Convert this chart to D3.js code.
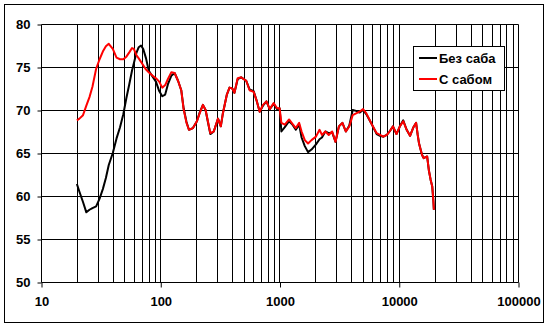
<!DOCTYPE html>
<html><head><meta charset="utf-8">
<script src="https://cdn.jsdelivr.net/npm/d3@7"></script>
<style>
html,body{margin:0;padding:0;background:#fff;}
text{font-family:"Liberation Sans",Arial,sans-serif;font-weight:bold;font-size:13px;fill:#000;}
</style></head>
<body>
<svg id="c" width="550" height="328"></svg>
<script>
const freqs = [20,21,22.5,24,25.5,27,29,31,33,35,37,40,43,46,49,52,55,58,60,63,66,69,72,76,80,86,92,98,104,110,116,124,132,141,150,157,166,174,188,203,214,228,240,251,263,281,305,322,335,362,381,402,419,446,477,526,561,607,646,682,727,777,828,893,955,1003,1037,1108,1203,1285,1370,1462,1532,1630,1735,1855,2022,2165,2270,2424,2588,2765,2950,3150,3370,3600,3850,4110,4390,4690,5020,5350,5910,6530,6960,7440,7950,8380,8950,9570,10220,10900,11650,12440,13280,13980,14420,14800,15660,16180,17300,17880,18500,19100,19500,19700];
const bezSaba = [61.4,60.5,59.3,58.1,58.4,58.6,58.8,59.7,60.8,62.1,63.6,65.0,66.7,68.0,69.5,71.4,73.0,74.6,75.4,76.6,77.3,77.5,77.1,76.0,74.6,73.9,73.3,72.2,71.6,71.8,73.0,74.0,74.3,73.4,72.3,70.2,68.6,67.7,67.9,68.7,69.7,70.6,70.0,68.6,67.2,67.5,69.0,68.1,69.6,71.8,72.6,72.5,72.0,73.6,73.8,73.4,72.4,72.2,71.0,69.8,70.5,71.0,70.1,70.7,70.1,70.2,67.5,68.0,68.7,68.3,67.7,68.3,66.8,65.8,65.1,65.4,66.0,66.6,66.8,67.5,67.3,67.4,66.3,68.1,68.5,67.5,68.2,70.0,69.9,69.7,70.0,69.5,68.4,67.2,67.0,66.9,67.1,67.5,68.1,67.2,68.1,68.8,67.7,67.0,68.0,68.5,67.1,66.1,64.8,64.4,64.6,63.0,61.9,61.1,59.5,58.4];
const sSabom = [68.8,69.0,69.4,70.5,71.5,72.7,74.8,75.9,76.8,77.4,77.7,77.1,76.1,75.9,75.9,76.2,76.7,77.2,77.1,76.4,76.0,75.6,75.2,74.7,74.4,74.0,73.7,73.3,72.6,72.9,73.6,74.4,74.3,73.4,72.3,70.1,68.5,67.7,67.9,68.7,69.6,70.6,70.0,68.7,67.3,67.5,69.0,68.1,69.6,71.8,72.6,72.5,72.0,73.7,73.8,73.4,72.3,72.1,71.0,69.8,70.6,71.0,70.1,70.8,70.2,70.2,68.5,68.3,68.9,68.4,67.9,68.5,67.5,66.5,66.1,66.5,66.9,67.7,67.1,67.5,67.1,67.5,66.3,68.1,68.5,67.5,68.1,69.4,69.6,69.8,70.1,69.6,68.4,67.3,67.1,66.9,67.1,67.5,68.1,67.2,68.1,68.7,67.7,67.0,68.0,68.5,67.1,66.1,64.8,64.4,64.6,63.0,61.9,61.1,59.5,58.4];
const seriesNames = ["Без саба","С сабом"];
const seriesColors = ["#000000","#ff0000"];
const yTicks = [50,55,60,65,70,75,80];
const xTicks = [10,100,1000,10000,100000];

const svg = d3.select("#c");
// outer border
svg.append("rect").attr("x",4.5).attr("y",4.5).attr("width",539).attr("height",318)
  .attr("fill","#fff").attr("stroke","#000").attr("stroke-width",1);

const x = d3.scaleLog().domain([10,100000]).range([41,518]);
const y = d3.scaleLinear().domain([50,80]).range([282,24]);

const g = svg.append("g").attr("transform","translate(0.5,0.5)");

// vertical gridlines at every 1..9 x decade
const vgrid = [];
for (let d=10; d<100000; d*=10) for (let k=1;k<=9;k++){ const v=d*k; if(v>10) vgrid.push(v); }
vgrid.push(100000);
g.selectAll("line.vg").data(vgrid).join("line")
  .attr("x1",d=>Math.round(x(d))).attr("x2",d=>Math.round(x(d)))
  .attr("y1",y(80)).attr("y2",y(50)).attr("stroke","#000").attr("stroke-width",1);
// horizontal gridlines
g.selectAll("line.hg").data(yTicks.slice(1)).join("line")
  .attr("x1",x(10)).attr("x2",x(100000))
  .attr("y1",d=>Math.round(y(d))).attr("y2",d=>Math.round(y(d))).attr("stroke","#000");

// axes
const yAxis = d3.axisLeft(y).tickValues(yTicks).tickSize(4).tickPadding(7).tickFormat(d3.format("d"));
const yg = g.append("g").attr("transform",`translate(${x(10)},0)`).call(yAxis);
const xAxis = d3.axisBottom(x).tickValues(xTicks).tickSize(5).tickPadding(9).tickFormat(d3.format("d"));
const xg = g.append("g").attr("transform",`translate(0,${y(50)})`).call(xAxis);
[yg,xg].forEach(a=>{
  a.select(".domain").attr("stroke","#000").attr("stroke-width",1);
  a.selectAll(".tick line").attr("stroke","#000");
  a.selectAll("text").attr("font-family",null).attr("font-size",null).attr("fill","#000");
});
xg.select(".domain").attr("d",`M${x(10)},0H${x(100000)}`);
yg.select(".domain").attr("d",`M0,${y(50)}V${y(80)}`);

// lines
const line = vals => d3.line().x((d,i)=>x(freqs[i])).y(d=>y(d))(vals);
[bezSaba,sSabom].forEach((vals,i)=>{
  svg.append("path").attr("d",line(vals)).attr("fill","none")
    .attr("stroke",seriesColors[i]).attr("stroke-width",2).attr("stroke-linejoin","round");
});

// legend
const lg = svg.append("g");
lg.append("rect").attr("x",413.5).attr("y",46.5).attr("width",91).attr("height",44)
  .attr("fill","#fff").attr("stroke","#000");
seriesNames.forEach((n,i)=>{
  const yy = 58 + i*21;
  lg.append("line").attr("x1",419).attr("x2",437).attr("y1",yy).attr("y2",yy)
    .attr("stroke",seriesColors[i]).attr("stroke-width",2);
  lg.append("text").attr("x",439).attr("y",yy).attr("dy","0.35em").text(n);
});
</script>
</body></html>
